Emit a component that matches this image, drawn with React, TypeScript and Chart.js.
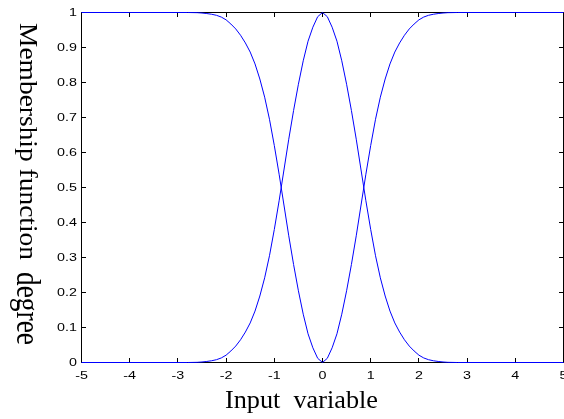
import React, { useEffect, useRef } from "react";
import { Chart, registerables } from "chart.js";

Chart.register(...registerables);

// Input variable sample positions
const xValues = [
  -5, -4, -3, -2.8, -2.6, -2.5, -2.4, -2.3, -2.2, -2.1, -2, -1.9, -1.8, -1.7, -1.6, -1.5,
  -1.4, -1.3, -1.2, -1.1, -1, -0.9, -0.8, -0.7, -0.6, -0.5, -0.4, -0.3, -0.2, -0.1, 0,
  0.1, 0.2, 0.3, 0.4, 0.5, 0.6, 0.7, 0.8, 0.9, 1, 1.1, 1.2, 1.3, 1.4, 1.5, 1.6, 1.7, 1.8,
  1.9, 2, 2.1, 2.2, 2.3, 2.4, 2.5, 2.6, 2.8, 3, 4, 5,
];

// Bell-shaped membership (peak at 0)
const bellValues = [
  0, 0, 0, 0, 0.0005, 0.0015, 0.003, 0.005, 0.008, 0.013, 0.021, 0.033, 0.047, 0.065, 0.087,
  0.113, 0.147, 0.19, 0.242, 0.305, 0.38, 0.462, 0.55, 0.638, 0.72, 0.795, 0.862, 0.918,
  0.958, 0.988, 1.0, 0.988, 0.958, 0.918, 0.862, 0.795, 0.72, 0.638, 0.55, 0.462, 0.38,
  0.305, 0.242, 0.19, 0.147, 0.113, 0.087, 0.065, 0.047, 0.033, 0.021, 0.013, 0.008, 0.005,
  0.003, 0.0015, 0.0005, 0, 0, 0, 0,
];

// Dip-shaped membership (zero at 0)
const dipValues = [
  1, 1, 1, 1, 0.9995, 0.9985, 0.997, 0.995, 0.992, 0.987, 0.979, 0.967, 0.953, 0.935, 0.913,
  0.887, 0.853, 0.81, 0.758, 0.695, 0.62, 0.538, 0.45, 0.362, 0.28, 0.205, 0.138, 0.082,
  0.042, 0.012, 0.0, 0.012, 0.042, 0.082, 0.138, 0.205, 0.28, 0.362, 0.45, 0.538, 0.62,
  0.695, 0.758, 0.81, 0.853, 0.887, 0.913, 0.935, 0.953, 0.967, 0.979, 0.987, 0.992, 0.995,
  0.997, 0.9985, 0.9995, 1, 1, 1, 1,
];

const xTickValues = [-5, -4, -3, -2, -1, 0, 1, 2, 3, 4, 5];
const xTickLabels = ["-5", "-4", "-3", "-2", "-1", "0", "1", "2", "3", "4", "5"];
const yTickValues = [0, 0.1, 0.2, 0.3, 0.4, 0.5, 0.6, 0.7, 0.8, 0.9, 1];
const yTickLabels = ["0", "0.1", "0.2", "0.3", "0.4", "0.5", "0.6", "0.7", "0.8", "0.9", "1"];

const xTitle = "Input  variable";
const yTitleMain = "Membership function";
const yTitleEnd = "degree";

function drawScaledText(
  ctx: CanvasRenderingContext2D,
  text: string,
  x: number,
  y: number,
  font: string,
  sx: number,
  sy: number,
  align: CanvasTextAlign,
  baseline: CanvasTextBaseline
) {
  ctx.save();
  ctx.translate(x, y);
  ctx.scale(sx, sy);
  ctx.font = font;
  ctx.textAlign = align;
  ctx.textBaseline = baseline;
  ctx.fillText(text, 0, 0);
  ctx.restore();
}

function drawFitText(
  ctx: CanvasRenderingContext2D,
  text: string,
  x: number,
  y: number,
  font: string,
  length: number,
  rotate: boolean
) {
  ctx.save();
  ctx.translate(x, y);
  if (rotate) ctx.rotate(Math.PI / 2);
  ctx.font = font;
  const w = ctx.measureText(text).width;
  ctx.scale(length / w, 1);
  ctx.textAlign = "left";
  ctx.textBaseline = "alphabetic";
  ctx.fillText(text, 0, 0);
  ctx.restore();
}

const framePlugin = {
  id: "matlabFrame",
  beforeDatasetsDraw(chart: any) {
    const { ctx, chartArea: a, scales } = chart;
    const xs = scales.x;
    const ys = scales.y;
    ctx.save();
    ctx.strokeStyle = "#000";
    ctx.lineWidth = 1;
    ctx.strokeRect(a.left, a.top, a.right - a.left, a.bottom - a.top);
    const tl = 4.5;
    ctx.beginPath();
    xTickValues.forEach((v) => {
      const p = Math.floor(xs.getPixelForValue(v)) + 0.5;
      ctx.moveTo(p, a.bottom);
      ctx.lineTo(p, a.bottom - tl);
      ctx.moveTo(p, a.top);
      ctx.lineTo(p, a.top + tl);
    });
    yTickValues.forEach((v) => {
      const p = Math.floor(ys.getPixelForValue(v)) + 0.5;
      ctx.moveTo(a.left, p);
      ctx.lineTo(a.left + tl, p);
      ctx.moveTo(a.right, p);
      ctx.lineTo(a.right - tl, p);
    });
    ctx.stroke();

    ctx.fillStyle = "#000";
    const tickFont = "11px 'Liberation Sans', Arial, sans-serif";
    yTickValues.forEach((v, i) => {
      const p = ys.getPixelForValue(v);
      drawScaledText(ctx, yTickLabels[i], a.left - 4.5, p + 0.5, tickFont, 1.3, 1, "right", "middle");
    });
    xTickValues.forEach((v, i) => {
      const p = xs.getPixelForValue(v);
      drawScaledText(ctx, xTickLabels[i], p, a.bottom + 13, tickFont, 1.3, 1, "center", "middle");
    });

    const serif = "'Liberation Serif', 'Times New Roman', serif";
    drawFitText(ctx, xTitle, 225, 407.5, `25px ${serif}`, 153, false);
    drawFitText(ctx, yTitleMain, 20, 23, `26px ${serif}`, 237, true);
    drawFitText(ctx, yTitleEnd, 17, 272, `33px ${serif}`, 73, true);
    ctx.restore();
  },
};

export default function App() {
  const ref = useRef<HTMLCanvasElement | null>(null);

  useEffect(() => {
    const canvas = ref.current;
    if (!canvas) return;
    const bell = xValues.map((x, i) => ({ x, y: bellValues[i] }));
    const dip = xValues.map((x, i) => ({ x, y: dipValues[i] }));
    const chart = new Chart(canvas, {
      type: "line",
      data: {
        datasets: [
          {
            data: dip,
            borderColor: "#0000ff",
            borderWidth: 1,
            pointRadius: 0,
            tension: 0,
            fill: false,
            clip: false,
          } as any,
          {
            data: bell,
            borderColor: "#0000ff",
            borderWidth: 1,
            pointRadius: 0,
            tension: 0,
            fill: false,
            clip: false,
          } as any,
        ],
      },
      options: {
        animation: false,
        responsive: false,
        devicePixelRatio: 1,
        layout: { padding: { left: 81.5, right: 0.5, top: 12.5, bottom: 56.5 } },
        plugins: { legend: { display: false }, tooltip: { enabled: false } },
        events: [],
        scales: {
          x: { type: "linear", min: -5, max: 5, display: false },
          y: { type: "linear", min: 0, max: 1, display: false },
        },
      },
      plugins: [framePlugin],
    });
    return () => chart.destroy();
  }, []);

  return (
    <div style={{ position: "fixed", left: 0, top: 0, width: 564, height: 419, background: "#fff" }}>
      <canvas ref={ref} width={564} height={419} style={{ display: "block", width: 564, height: 419 }} />
    </div>
  );
}
